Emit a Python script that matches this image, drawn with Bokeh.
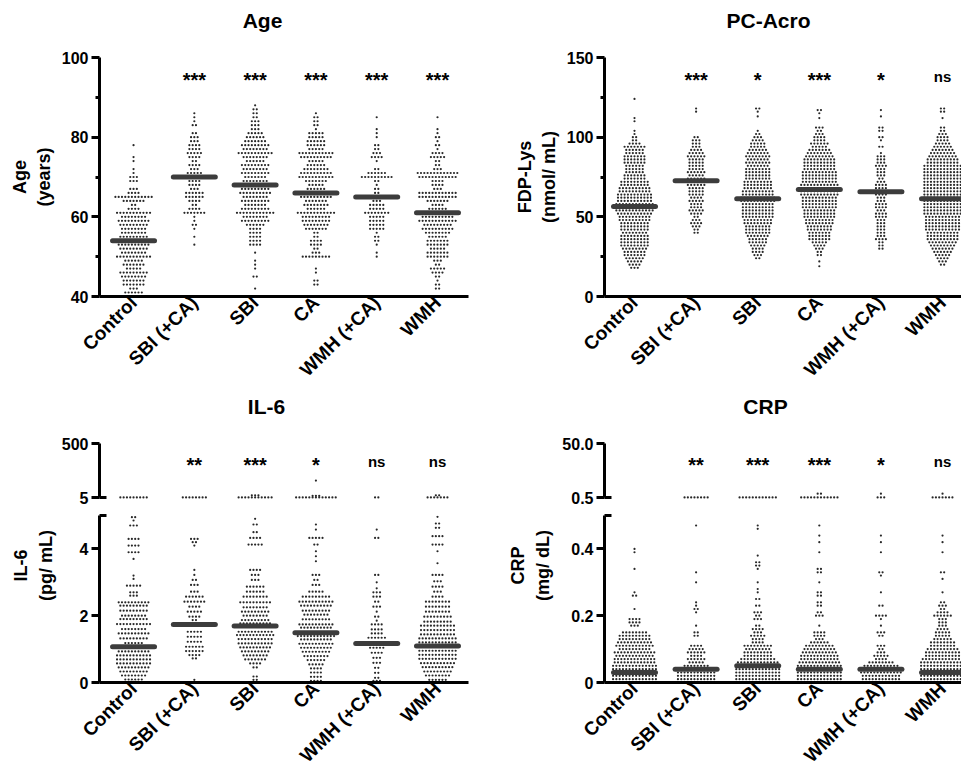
import math
from bokeh.plotting import figure
from bokeh.models import FixedTicker, Range1d
from bokeh.layouts import row, column
from bokeh.embed import file_html
from bokeh.resources import INLINE
from bokeh.core.properties import value

FONT = "Liberation Sans"

categories = ["Control", "SBI (+CA)", "SBI", "CA", "WMH (+CA)", "WMH"]
panel_titles = ["Age", "PC-Acro", "IL-6", "CRP"]

# ---------------- Age (years): (value, number of subjects) ----------------
age_control = [(78,1),(75,1),(74,1),(72,1),(71,1),(70,3),(69,3),(67,3),(66,4),(65,12),(64,7),(63,2),(62,4),(61,11),(60,8),(59,10),(58,9),(57,8),(56,8),(55,9),(54,12),(53,10),(52,9),(51,8),(50,11),(49,6),(48,7),(47,5),(46,9),(45,8),(44,7),(43,7),(42,3),(41,6)]
age_sbi_ca = [(86,1),(85,1),(84,1),(83,2),(81,2),(80,3),(79,3),(78,4),(77,4),(76,5),(75,4),(74,2),(73,4),(72,3),(71,5),(70,12),(69,4),(68,4),(67,3),(66,6),(65,6),(64,4),(63,2),(62,4),(61,7),(60,1),(59,1),(58,2),(57,1),(55,1),(53,1)]
age_sbi = [(88,1),(87,2),(86,2),(85,2),(84,3),(83,3),(82,3),(81,5),(80,6),(79,7),(78,9),(77,8),(76,11),(75,8),(74,6),(73,9),(72,8),(71,9),(70,7),(69,8),(68,13),(67,9),(66,10),(65,8),(64,9),(63,7),(62,9),(61,12),(60,8),(59,9),(58,6),(57,4),(56,4),(55,4),(54,4),(53,4),(51,1),(49,1),(48,1),(47,1),(45,2),(42,1)]
age_ca = [(86,1),(85,2),(84,2),(83,2),(82,1),(81,5),(80,5),(79,6),(78,6),(77,5),(76,11),(75,10),(74,5),(73,6),(72,8),(71,10),(70,11),(69,7),(68,5),(67,6),(66,13),(65,10),(64,7),(63,8),(62,6),(61,12),(60,9),(59,9),(58,8),(57,7),(56,2),(55,2),(54,4),(53,4),(52,2),(51,3),(50,9),(47,1),(46,1),(44,2),(43,2)]
age_wmh_ca = [(85,1),(82,1),(81,1),(80,1),(78,2),(77,2),(76,3),(75,4),(74,1),(72,2),(71,6),(70,10),(69,2),(68,1),(67,2),(66,2),(65,13),(64,3),(63,5),(62,5),(61,8),(60,5),(59,5),(58,5),(57,5),(56,1),(55,2),(54,2),(53,1),(51,1),(50,1)]
age_wmh = [(85,1),(82,1),(81,1),(80,2),(79,1),(78,2),(77,1),(76,4),(75,5),(74,2),(73,2),(72,3),(71,13),(70,12),(69,4),(68,4),(67,3),(66,12),(65,12),(64,7),(63,4),(62,6),(61,14),(60,10),(59,12),(58,9),(57,10),(56,8),(55,6),(54,7),(53,7),(52,5),(51,7),(50,7),(49,3),(48,2),(47,5),(46,4),(45,2),(44,1),(43,2),(42,2)]
age_median = [54, 70, 68, 66, 65, 61]
age_sig = ["", "***", "***", "***", "***", "***"]

# ---------------- PC-Acro, FDP-Lys (nmol/mL) ----------------
pc_control = [(124,1),(112,1),(110,1),(104,1),(102,1),(100,2),(98,2),(96,4),(94,7),(92,6),(90,6),(88,7),(86,7),(84,7),(82,6),(80,6),(78,6),(76,7),(74,7),(72,9),(70,9),(68,10),(66,10),(64,11),(62,11),(60,11),(58,12),(56,12),(54,12),(52,11),(50,10),(48,10),(46,9),(44,9),(42,9),(40,8),(38,9),(36,9),(34,9),(32,9),(30,8),(28,7),(26,7),(24,6),(22,5),(20,4),(18,3)]
pc_sbi_ca = [(118,1),(116,1),(100,2),(98,3),(96,3),(94,3),(92,4),(90,5),(88,6),(86,5),(84,5),(82,5),(80,5),(78,6),(76,5),(74,6),(72,7),(70,6),(68,5),(66,5),(64,5),(62,4),(60,5),(58,4),(56,4),(54,5),(52,4),(50,2),(48,3),(46,4),(44,3),(42,2),(40,2)]
pc_sbi = [(118,2),(116,1),(113,1),(104,1),(102,2),(100,3),(98,4),(96,5),(94,5),(92,6),(90,7),(88,8),(86,7),(84,8),(82,7),(80,8),(78,8),(76,8),(74,8),(72,9),(70,9),(68,9),(66,10),(64,10),(62,11),(60,11),(58,10),(56,10),(54,10),(52,10),(50,10),(48,9),(46,9),(44,8),(42,8),(40,8),(38,7),(36,6),(34,6),(32,5),(30,4),(28,4),(26,3),(24,2)]
pc_ca = [(117,2),(115,1),(112,1),(106,3),(104,2),(102,3),(100,4),(98,4),(96,6),(94,5),(92,7),(90,8),(88,9),(86,10),(84,10),(82,10),(80,10),(78,11),(76,11),(74,11),(72,11),(70,12),(68,12),(66,12),(64,12),(62,11),(60,11),(58,11),(56,11),(54,10),(52,10),(50,10),(48,9),(46,9),(44,8),(42,8),(40,7),(38,7),(36,7),(34,5),(32,4),(30,3),(28,2),(26,2),(22,1),(19,1)]
pc_wmh_ca = [(117,1),(113,1),(106,2),(104,2),(100,2),(98,1),(94,2),(90,1),(88,3),(86,3),(84,3),(82,4),(80,3),(78,3),(76,3),(74,2),(72,3),(70,4),(68,4),(66,5),(64,4),(62,3),(60,3),(58,4),(56,4),(54,3),(52,4),(50,4),(48,3),(46,3),(44,3),(42,3),(40,3),(38,3),(36,4),(34,2),(32,2),(30,2)]
pc_wmh = [(118,2),(116,2),(112,1),(106,2),(104,2),(102,3),(100,4),(98,4),(96,5),(94,6),(92,7),(90,8),(88,9),(86,10),(84,10),(82,12),(80,12),(78,12),(76,12),(74,12),(72,12),(70,12),(68,12),(66,12),(64,12),(62,12),(60,12),(58,12),(56,12),(54,12),(52,12),(50,11),(48,11),(46,11),(44,11),(42,11),(40,10),(38,10),(36,10),(34,9),(32,8),(30,7),(28,6),(26,5),(24,4),(22,3),(20,2)]
pc_median = [56.5, 72.7, 61.3, 67.2, 65.8, 61.3]
pc_sig = ["", "***", "*", "***", "*", "ns"]

# ---------------- IL-6 (pg/mL): lower segment 0-5 ----------------
il6_control = [(4.95,2),(4.85,1),(4.7,3),(4.3,4),(4.1,4),(3.9,4),(3.7,1),(3.2,1),(3.1,1),(2.9,5),(2.7,3),(2.6,3),(2.4,10),(2.3,9),(2.15,9),(2.0,8),(1.9,9),(1.75,11),(1.6,8),(1.47,10),(1.32,9),(1.18,6),(1.05,12),(0.93,10),(0.81,11),(0.69,11),(0.57,11),(0.45,10),(0.33,9),(0.21,8),(0.09,6),(0.02,3)]
il6_sbi_ca = [(4.3,3),(4.2,2),(4.1,1),(3.37,1),(3.22,1),(3.07,2),(2.92,3),(2.72,3),(2.57,6),(2.42,7),(2.27,4),(2.12,5),(1.97,4),(1.87,2),(1.75,12),(1.52,5),(1.37,5),(1.22,5),(1.07,6),(0.94,6),(0.82,4),(0.72,2),(0.08,1)]
il6_sbi = [(4.9,1),(4.73,2),(4.5,2),(4.33,4),(4.13,5),(3.37,4),(3.22,3),(3.07,3),(2.87,6),(2.72,6),(2.57,8),(2.4,10),(2.25,8),(2.12,9),(2.0,8),(1.87,9),(1.77,10),(1.67,13),(1.52,11),(1.42,12),(1.3,11),(1.17,11),(1.05,10),(0.93,9),(0.81,8),(0.69,7),(0.57,4),(0.45,2),(0.18,2),(0.08,2)]
il6_ca = [(4.73,1),(4.58,1),(4.33,5),(4.13,2),(3.93,1),(3.78,1),(3.63,1),(3.22,3),(3.07,2),(2.92,3),(2.72,5),(2.57,9),(2.42,11),(2.3,10),(2.15,9),(2.03,8),(1.89,9),(1.74,11),(1.64,10),(1.5,13),(1.39,12),(1.29,10),(1.16,11),(1.04,10),(0.92,9),(0.79,8),(0.67,6),(0.54,5),(0.42,4),(0.3,4),(0.17,4),(0.05,4)]
il6_wmh_ca = [(4.58,1),(4.33,2),(3.22,2),(3.0,1),(2.82,1),(2.7,3),(2.57,3),(2.42,2),(2.27,3),(2.12,1),(1.97,2),(1.85,1),(1.74,4),(1.59,4),(1.47,4),(1.34,6),(1.18,13),(1.04,5),(0.89,4),(0.74,3),(0.59,3),(0.44,2),(0.29,2),(0.14,2),(0.05,3)]
il6_wmh = [(4.96,1),(4.76,2),(4.63,2),(4.38,4),(4.13,4),(3.93,1),(3.57,1),(3.22,4),(3.03,3),(2.87,4),(2.72,3),(2.57,4),(2.42,8),(2.27,8),(2.12,8),(1.97,9),(1.82,9),(1.7,11),(1.57,11),(1.44,11),(1.32,12),(1.2,12),(1.08,14),(0.95,12),(0.83,12),(0.71,12),(0.58,11),(0.46,10),(0.33,9),(0.21,8),(0.08,6)]
# upper segment (values >= 5)
il6_control_hi = [(6,9)]
il6_sbi_ca_hi = [(6,8)]
il6_sbi_hi = [(6,11),(25,3)]
il6_ca_hi = [(6,13),(20,3),(160,1)]
il6_wmh_ca_hi = [(6,2)]
il6_wmh_hi = [(6,7),(25,2)]
il6_median = [1.07, 1.74, 1.69, 1.49, 1.17, 1.09]
il6_sig = ["", "**", "***", "*", "ns", "ns"]

# ---------------- CRP (mg/dL): lower segment 0-0.5 ----------------
crp_control = [(0.40,1),(0.39,1),(0.34,1),(0.27,1),(0.26,2),(0.22,1),(0.19,4),(0.18,4),(0.17,3),(0.15,8),(0.14,10),(0.13,10),(0.12,11),(0.11,12),(0.10,10),(0.09,13),(0.08,12),(0.07,13),(0.06,13),(0.05,14),(0.04,14),(0.03,14),(0.02,14),(0.01,14)]
crp_sbi_ca = [(0.47,1),(0.33,1),(0.30,1),(0.24,1),(0.23,1),(0.22,2),(0.21,1),(0.17,1),(0.15,2),(0.14,2),(0.11,4),(0.10,5),(0.09,6),(0.08,4),(0.07,6),(0.06,5),(0.05,8),(0.04,14),(0.03,12),(0.02,12),(0.01,12)]
crp_sbi = [(0.47,1),(0.46,1),(0.38,1),(0.36,2),(0.35,2),(0.34,1),(0.30,1),(0.28,1),(0.27,1),(0.25,2),(0.23,2),(0.21,3),(0.20,2),(0.19,3),(0.17,2),(0.16,4),(0.15,3),(0.14,5),(0.13,4),(0.12,4),(0.11,9),(0.10,8),(0.09,9),(0.08,9),(0.07,11),(0.06,13),(0.05,14),(0.04,14),(0.03,14),(0.02,14),(0.01,14)]
crp_ca = [(0.47,1),(0.44,1),(0.42,1),(0.39,1),(0.34,2),(0.33,2),(0.30,1),(0.27,2),(0.26,2),(0.24,2),(0.23,2),(0.21,2),(0.20,3),(0.17,1),(0.15,4),(0.14,4),(0.13,3),(0.12,6),(0.11,9),(0.10,10),(0.09,11),(0.08,12),(0.07,12),(0.06,13),(0.05,14),(0.04,14),(0.03,14),(0.02,14),(0.01,14)]
crp_wmh_ca = [(0.44,1),(0.42,1),(0.39,1),(0.33,2),(0.32,1),(0.27,1),(0.23,2),(0.20,4),(0.19,1),(0.17,1),(0.15,3),(0.14,2),(0.11,3),(0.10,2),(0.09,3),(0.08,5),(0.07,4),(0.06,8),(0.05,11),(0.04,14),(0.03,13),(0.02,12),(0.01,12)]
crp_wmh = [(0.44,1),(0.42,1),(0.39,1),(0.33,2),(0.31,1),(0.27,1),(0.24,2),(0.23,3),(0.22,2),(0.21,4),(0.20,6),(0.19,3),(0.18,3),(0.17,3),(0.16,4),(0.15,5),(0.14,5),(0.13,6),(0.12,8),(0.11,8),(0.10,10),(0.09,11),(0.08,11),(0.07,13),(0.06,14),(0.05,14),(0.04,14),(0.03,14),(0.02,14),(0.01,14)]
# upper segment (values >= 0.5)
crp_control_hi = []
crp_sbi_ca_hi = [(0.6,8)]
crp_sbi_hi = [(0.6,12)]
crp_ca_hi = [(0.6,12),(4.0,2)]
crp_wmh_ca_hi = [(0.6,3),(4.0,1)]
crp_wmh_hi = [(0.6,7),(4.0,1)]
crp_median = [0.03, 0.04, 0.05, 0.04, 0.04, 0.03]
crp_sig = ["", "**", "***", "***", "*", "ns"]

# ---------------- layout / style constants ----------------
TOTAL_W = 961
LEFT_W, RIGHT_W = 482, 479
LEFT_BORDER = (99, 14)
RIGHT_BORDER = (122, 0)
LEFT_XR = (0.44, 6.51)
RIGHT_XR = (0.513, 6.308)
TITLE_H = 40             # strip carrying the panel titles of a row
IL6_LAB_W = 58           # strip holding the IL-6 y-axis title
CRP_LAB_W = 75           # strip holding the CRP y-axis title
BROKEN_H = 76 + 270      # upper + lower segment figures
DOT_GAP_PX = 3.3
DOT_SIZE = 2.2
MEDIAN_HALF_PX = 21
DOT_COLOR = "#1c1c1c"
MEDIAN_COLOR = "#3c3c3c"


def frame_px_per_unit(width, border, xr):
    return (width - border[0] - border[1]) / (xr[1] - xr[0])


def make_fig(width, height, xr, yr, border, top, bottom, x_axis=True):
    p = figure(width=width, height=height, x_range=Range1d(*xr), y_range=Range1d(*yr),
               output_backend="svg", toolbar_location=None,
               min_border_left=border[0], min_border_right=border[1],
               min_border_top=top, min_border_bottom=bottom,
               x_axis_location="below" if x_axis else None, title=None)
    p.grid.visible = False
    p.outline_line_color = None
    p.background_fill_color = "white"
    p.border_fill_color = "white"
    return p


def text_strip(width, height, items):
    """Blank strip in pixel coordinates carrying titles: (text, cx, cy, angle, size)."""
    s = figure(width=width, height=height, x_range=Range1d(0, width),
               y_range=Range1d(height, 0), output_backend="svg", toolbar_location=None,
               min_border=0, x_axis_location=None, y_axis_location=None, title=None)
    s.grid.visible = False
    s.outline_line_color = None
    for text, cx, cy, angle, size in items:
        s.text(x=[cx], y=[cy], text=[text], angle=angle, text_align="center",
               text_baseline="middle", text_font=value(FONT), text_font_size=size,
               text_font_style="bold", text_color="black", text_line_height=1.25)
    return s


def style_yaxis(p, ticks, minor, label=None, overrides=None, bounds=None, cap=False):
    ax = p.yaxis[0]
    ax.ticker = FixedTicker(ticks=ticks, minor_ticks=minor)
    ax.axis_line_width = 3
    ax.axis_line_color = "black"
    ax.major_tick_line_width = 3
    ax.major_tick_out = 8
    ax.major_tick_in = 0
    ax.minor_tick_line_width = 3
    if cap:
        ax.minor_tick_out = 0
        ax.minor_tick_in = 7
    else:
        ax.minor_tick_out = 4
        ax.minor_tick_in = 0
    ax.major_label_text_font = FONT
    ax.major_label_text_font_size = "16px"
    ax.major_label_text_font_style = "bold"
    ax.major_label_text_color = "black"
    ax.major_label_standoff = 3
    if overrides:
        ax.major_label_overrides = overrides
    if bounds:
        ax.bounds = bounds
    if label:
        ax.axis_label = label
        ax.axis_label_text_font = FONT
        ax.axis_label_text_font_size = "18px"
        ax.axis_label_text_font_style = "bold"
        ax.axis_label_text_color = "black"
        ax.axis_label_standoff = 5


def style_xaxis(p):
    ax = p.xaxis[0]
    ax.ticker = FixedTicker(ticks=list(range(1, len(categories) + 1)))
    ax.major_label_overrides = {i + 1: c for i, c in enumerate(categories)}
    ax.major_label_orientation = math.pi / 4
    ax.major_tick_out = 0
    ax.major_tick_in = 0
    ax.minor_tick_out = 0
    ax.minor_tick_in = 0
    ax.axis_line_width = 3
    ax.axis_line_color = "black"
    ax.major_label_text_font = FONT
    ax.major_label_text_font_size = "19px"
    ax.major_label_text_font_style = "bold"
    ax.major_label_text_color = "black"
    ax.major_label_standoff = 3


def swarm(p, groups, ppu):
    dx = DOT_GAP_PX / ppu
    xs, ys = [], []
    for i, rows in enumerate(groups):
        for v, n in rows:
            for j in range(n):
                xs.append(i + 1 + (j - (n - 1) / 2) * dx)
                ys.append(v)
    p.scatter(xs, ys, size=DOT_SIZE, marker="circle", fill_color=DOT_COLOR,
              line_color=None, fill_alpha=0.95)


def medians(p, med, ppu):
    hw = MEDIAN_HALF_PX / ppu
    xs = [i + 1 for i in range(len(med))]
    p.segment(x0=[x - hw for x in xs], x1=[x + hw for x in xs], y0=med, y1=med,
              line_width=5, line_color=MEDIAN_COLOR, line_cap="round")


def stars(p, sig, y):
    for is_star, size, off in ((True, "20px", 3), (False, "15px", -1)):
        idx = [i for i, s in enumerate(sig) if s and (("*" in s) == is_star)]
        if not idx:
            continue
        p.text(x=[i + 1 for i in idx], y=[y] * len(idx), text=[sig[i] for i in idx],
               y_offset=off, text_font_size=size,
               text_align="center", text_baseline="alphabetic", text_font=value(FONT),
               text_font_style="bold", text_color="black")


lppu = frame_px_per_unit(LEFT_W, LEFT_BORDER, LEFT_XR)
rppu = frame_px_per_unit(RIGHT_W, RIGHT_BORDER, RIGHT_XR)

# ---- row 1 titles ----
title_row1 = text_strip(TOTAL_W, TITLE_H, [(panel_titles[0], 262, 20, 0, "21px"),
                                           (panel_titles[1], 768, 20, 0, "21px")])

# ---- Age ----
p_age = make_fig(LEFT_W, 350, LEFT_XR, (40, 100), LEFT_BORDER, 57 - TITLE_H, 90)
style_yaxis(p_age, [40, 60, 80, 100], [50, 70, 90], label="Age\n(years)")
style_xaxis(p_age)
swarm(p_age, [age_control, age_sbi_ca, age_sbi, age_ca, age_wmh_ca, age_wmh], lppu)
medians(p_age, age_median, lppu)
stars(p_age, age_sig, 95.1)

# ---- PC-Acro ----
p_pc = make_fig(RIGHT_W, 350, RIGHT_XR, (0, 150), RIGHT_BORDER, 57 - TITLE_H, 90)
style_yaxis(p_pc, [0, 50, 100, 150], [25, 75, 125], label="FDP-Lys\n(nmol/ mL)")
style_xaxis(p_pc)
swarm(p_pc, [pc_control, pc_sbi_ca, pc_sbi, pc_ca, pc_wmh_ca, pc_wmh], rppu)
medians(p_pc, pc_median, rppu)
stars(p_pc, pc_sig, 137.7)

# ---- row 2 titles ----
title_row2 = text_strip(TOTAL_W, TITLE_H, [(panel_titles[2], 266, 16, 0, "21px"),
                                           (panel_titles[3], 765, 16, 0, "21px")])

# ---- IL-6 (broken axis: upper 5-500, lower 0-5) ----
il6_w = LEFT_W - IL6_LAB_W
il6_border = (LEFT_BORDER[0] - IL6_LAB_W, LEFT_BORDER[1])
p_il6_hi = make_fig(il6_w, 76, LEFT_XR, (5 - 5 * 495 / 54, 500), il6_border, 13, 4, x_axis=False)
style_yaxis(p_il6_hi, [5, 500], [5], bounds=(5, 500), cap=True)
swarm(p_il6_hi, [il6_control_hi, il6_sbi_ca_hi, il6_sbi_hi, il6_ca_hi, il6_wmh_ca_hi, il6_wmh_hi], lppu)
stars(p_il6_hi, il6_sig, 326)

p_il6 = make_fig(il6_w, 270, LEFT_XR, (0, 5), il6_border, 9, 91)
p_il6.x_range = p_il6_hi.x_range
style_yaxis(p_il6, [0, 2, 4], [5], cap=True)
style_xaxis(p_il6)
swarm(p_il6, [il6_control, il6_sbi_ca, il6_sbi, il6_ca, il6_wmh_ca, il6_wmh], lppu)
medians(p_il6, il6_median, lppu)

il6_title = text_strip(IL6_LAB_W, BROKEN_H, [("IL-6\n(pg/ mL)", 33, 135, math.pi / 2, "18px")])

# ---- CRP (broken axis: upper 0.5-50, lower 0-0.5) ----
crp_w = RIGHT_W - CRP_LAB_W
crp_border = (RIGHT_BORDER[0] - CRP_LAB_W, RIGHT_BORDER[1])
p_crp_hi = make_fig(crp_w, 76, RIGHT_XR, (0.5 - 5 * 49.5 / 54, 50), crp_border, 13, 4, x_axis=False)
style_yaxis(p_crp_hi, [0.5, 50], [0.5], overrides={0.5: "0.5", 50: "50.0"}, bounds=(0.5, 50), cap=True)
swarm(p_crp_hi, [crp_control_hi, crp_sbi_ca_hi, crp_sbi_hi, crp_ca_hi, crp_wmh_ca_hi, crp_wmh_hi], rppu)
stars(p_crp_hi, crp_sig, 32.6)

p_crp = make_fig(crp_w, 270, RIGHT_XR, (0, 0.5), crp_border, 9, 91)
p_crp.x_range = p_crp_hi.x_range
style_yaxis(p_crp, [0, 0.2, 0.4], [0.5], overrides={0: "0", 0.2: "0.2", 0.4: "0.4"}, cap=True)
style_xaxis(p_crp)
swarm(p_crp, [crp_control, crp_sbi_ca, crp_sbi, crp_ca, crp_wmh_ca, crp_wmh], rppu)
medians(p_crp, crp_median, rppu)

crp_title = text_strip(CRP_LAB_W, BROKEN_H, [("CRP\n(mg/ dL)", 48, 135, math.pi / 2, "18px")])

layout = column(title_row1,
                row(p_age, p_pc),
                title_row2,
                row(il6_title, column(p_il6_hi, p_il6), crp_title, column(p_crp_hi, p_crp)))

open("out.html", "w").write(file_html(layout, INLINE))
